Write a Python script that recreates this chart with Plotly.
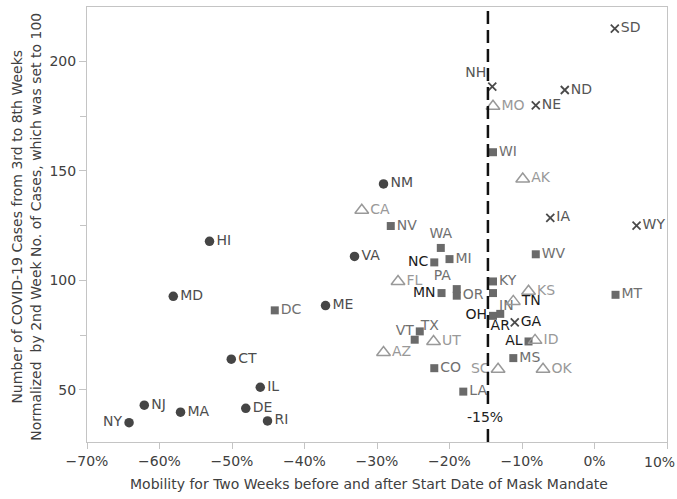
import plotly.graph_objects as go

# ---- data ----
circle_states = ["HI", "MD", "ME", "CT", "IL", "NJ", "MA", "DE", "RI", "NY", "VA", "NM"]
circle_x = [-53.1, -58.1, -37.1, -50.1, -46.1, -62.1, -57.1, -48.1, -45.1, -64.2, -33.1, -29.1]
circle_y = [117.8, 92.7, 88.5, 64.0, 51.2, 43.0, 39.8, 41.6, 35.8, 35.0, 110.9, 144.0]

square_states = ["DC", "NV", "WA", "NC", "MI", "PA", "MN", "OR", "KY", "IN", "WI", "WV",
                 "MT", "OH", "AR", "AL", "MS", "CO", "LA", "VT", "TX"]
square_x = [-44.1, -28.1, -21.2, -22.1, -20.0, -19.0, -21.1, -19.0, -14.0, -14.0, -14.0, -8.1,
            2.9, -14.0, -13.0, -9.1, -11.2, -22.1, -18.1, -24.1, -24.8]
square_y = [86.3, 124.8, 114.8, 108.2, 109.7, 96.0, 94.2, 93.0, 99.5, 94.2, 158.5, 111.9,
            93.4, 83.8, 84.7, 72.1, 64.5, 59.9, 49.2, 76.7, 72.9]

triangle_states = ["CA", "FL", "AZ", "UT", "AK", "MO", "KS", "TN", "ID", "SC", "OK"]
triangle_x = [-32.1, -27.1, -29.1, -22.2, -9.9, -14.0, -9.1, -11.2, -8.2, -13.3, -7.1]
triangle_y = [132.0, 99.5, 67.1, 72.1, 146.3, 179.5, 95.0, 90.4, 72.6, 59.4, 59.4]

cross_states = ["SD", "NH", "NE", "ND", "IA", "WY", "GA"]
cross_x = [2.8, -14.1, -8.1, -4.1, -6.1, 5.8, -11.0]
cross_y = [214.9, 188.4, 179.9, 186.9, 128.5, 125.0, 80.8]

x_ticks = [-70, -60, -50, -40, -30, -20, -10, 0, 10]
x_tick_labels = ["−70%", "−60%", "−50%", "−40%", "−30%", "−20%", "−10%", "0%", "10%"]
y_ticks = [50, 100, 150, 200]
y_tick_labels = ["50", "100", "150", "200"]
threshold = -14.7
threshold_label = "-15%"

x_title = "Mobility for Two Weeks before and after Start Date of Mask Mandate"
y_title = ("Number of COVID-19 Cases from 3rd to 8th Weeks<br>"
           "Normalized  by 2nd Week No. of Cases, which was set to 100")

# ---- label placement / colour (style, separate from data) ----
left_labels = {"NY", "NC", "MN", "OH", "AL", "SC", "VT"}
special_pos = {"WA": "top center", "PA": "top left", "NH": "top left", "AR": "bottom center",
               "IN": "bottom right", "TX": "top right"}
black_labels = {"NC", "MN", "OH", "AR", "AL", "TN", "GA"}


def positions(states):
    out = []
    for s in states:
        if s in special_pos:
            out.append(special_pos[s])
        elif s in left_labels:
            out.append("middle left")
        else:
            out.append("middle right")
    return out


def colors(states, base):
    return ["#1a1a1a" if s in black_labels else base for s in states]


FONT = "DejaVu Sans"
FS = 14
TICK_COLOR = "#404040"
fig = go.Figure()

fig.add_trace(go.Scatter(
    x=circle_x, y=circle_y, text=circle_states, mode="markers+text",
    textposition=positions(circle_states),
    textfont=dict(family=FONT, size=FS, color=colors(circle_states, "#4d4d4d")),
    marker=dict(symbol="circle", size=9.5, color="#454545"),
    cliponaxis=False, showlegend=False))

fig.add_trace(go.Scatter(
    x=square_x, y=square_y, text=square_states, mode="markers+text",
    textposition=positions(square_states),
    textfont=dict(family=FONT, size=FS, color=colors(square_states, "#707070")),
    marker=dict(symbol="square", size=8, color="#6a6a6a"),
    cliponaxis=False, showlegend=False))

fig.add_trace(go.Scatter(
    x=triangle_x, y=triangle_y, text=triangle_states, mode="markers+text",
    textposition=positions(triangle_states),
    textfont=dict(family=FONT, size=FS, color=colors(triangle_states, "#999999")),
    marker=dict(symbol="triangle-up-open", size=12, color="#999999", line=dict(width=1.5)),
    cliponaxis=False, showlegend=False))

fig.add_trace(go.Scatter(
    x=cross_x, y=cross_y, text=cross_states, mode="markers+text",
    textposition=positions(cross_states),
    textfont=dict(family=FONT, size=FS, color=colors(cross_states, "#555555")),
    marker=dict(symbol="x-thin-open", size=8, color="#4a4a4a", line=dict(width=1.8)),
    cliponaxis=False, showlegend=False))

fig.add_shape(type="line", xref="x", yref="paper", x0=threshold, x1=threshold, y0=0, y1=1,
              line=dict(color="#111111", width=2.5, dash="13px,6px"))
fig.add_annotation(x=threshold, y=37.5, text=threshold_label, showarrow=False,
                   font=dict(family=FONT, size=FS, color="#222222"), bgcolor="white",
                   xshift=-3)

# last x tick label, pulled inside the page edge as in the reference
shown_x_labels = x_tick_labels[:-1] + [""]
fig.add_annotation(xref="paper", yref="paper", x=1, y=0, xshift=10, yshift=-20,
                   text=x_tick_labels[-1], showarrow=False, xanchor="right", yanchor="middle",
                   font=dict(family=FONT, size=FS, color=TICK_COLOR))

# axis titles as annotations (exact placement)
fig.add_annotation(xref="paper", yref="paper", x=0.486, y=-0.097, text=x_title,
                   showarrow=False, xanchor="center", yanchor="middle",
                   font=dict(family=FONT, size=FS, color=TICK_COLOR))
fig.add_annotation(xref="paper", yref="paper", x=-0.105, y=0.495, text=y_title,
                   showarrow=False, xanchor="center", yanchor="middle", textangle=-90,
                   font=dict(family=FONT, size=FS, color=TICK_COLOR))

fig.update_layout(
    width=677, height=499,
    margin=dict(l=87, r=10, t=7, b=57),
    paper_bgcolor="white", plot_bgcolor="white",
    font=dict(family=FONT, size=FS, color=TICK_COLOR),
    xaxis=dict(range=[-70, 10], tickvals=x_ticks, ticktext=shown_x_labels,
               showgrid=False, zeroline=False, automargin=False,
               showline=True, linecolor="#c4c4c4", linewidth=1, mirror=True,
               ticks="outside", tickcolor="#c4c4c4", ticklen=6,
               tickfont=dict(family=FONT, size=FS, color=TICK_COLOR)),
    yaxis=dict(range=[26.2, 224.8], tickvals=y_ticks, ticktext=y_tick_labels,
               showgrid=False, zeroline=False, automargin=False,
               showline=True, linecolor="#c4c4c4", linewidth=1, mirror=True,
               ticks="outside", tickcolor="#c4c4c4", ticklen=7,
               minor=dict(tickvals=[75, 125, 175], ticks="outside", ticklen=6, tickcolor="#c4c4c4"),
               tickfont=dict(family=FONT, size=FS, color=TICK_COLOR)),
)

fig.write_html("out.html", config={"displayModeBar": False},
               post_script="document.body.style.margin='0';document.body.style.padding='0';")
